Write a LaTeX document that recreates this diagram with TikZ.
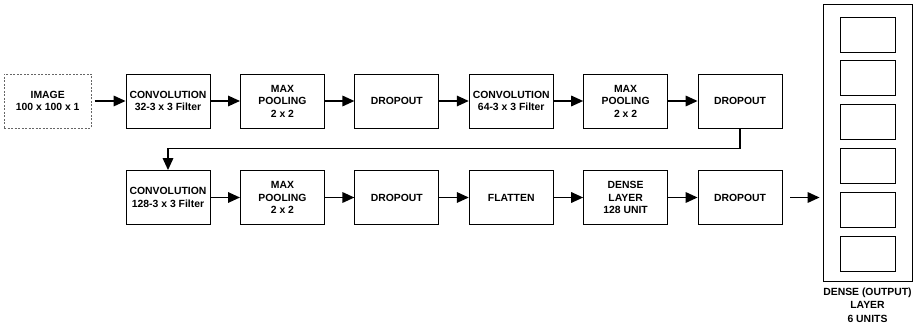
\documentclass[tikz,border=0pt]{standalone}
\usepackage{fontspec}
\setmainfont{Liberation Sans}
\usetikzlibrary{arrows.meta,positioning}
\tikzset{
  box/.style={draw=black,fill=white,minimum width=84pt,minimum height=54pt,align=center,
    font=\bfseries\fontsize{10.4}{12.5}\selectfont,line width=0.8pt,inner sep=1pt},
  inbox/.style={box,minimum width=87pt,draw=black!60,dash pattern=on 2pt off 1.5pt},
  unit/.style={draw=black,minimum width=55pt,minimum height=35pt,line width=0.8pt},
  flow/.style={-{Triangle[length=12pt,width=10.5pt]},line width=1.7pt},
  lbl/.style={font=\bfseries\fontsize{10.4}{13.5}\selectfont,align=center,inner sep=1pt},
  node distance=29.6pt
}
\begin{document}
\begin{tikzpicture}[x=1pt,y=-1pt]
  \useasboundingbox (0,0) rectangle (915,328);
  % first row
  \node[box] (c1) at (168,101) {CONVOLUTION\\32-3 x 3 Filter};
  \node[inbox,left=34pt of c1] (img) {IMAGE\\100 x 100 x 1};
  \node[box,right=of c1] (m1) {MAX\\POOLING\\2 x 2};
  \node[box,right=of m1] (d1) {DROPOUT};
  \node[box,right=of d1] (c2) {CONVOLUTION\\64-3 x 3 Filter};
  \node[box,right=of c2] (m2) {MAX\\POOLING\\2 x 2};
  \node[box,right=of m2] (d2) {DROPOUT};
  % second row
  \node[box] (c3) at (168,197.5) {CONVOLUTION\\128-3 x 3 Filter};
  \node[box,right=of c3] (m3) {MAX\\POOLING\\2 x 2};
  \node[box,right=of m3] (d3) {DROPOUT};
  \node[box,right=of d3] (fl) {FLATTEN};
  \node[box,right=of fl] (de) {DENSE\\LAYER\\128 UNIT};
  \node[box,right=of de] (d4) {DROPOUT};
  % output layer
  \node[draw=black,line width=0.8pt,minimum width=89pt,minimum height=277pt] (outer) at (867.5,142.5) {};
  \node[unit] (u1) at (867.5,34.5) {};
  \foreach \i [count=\j] in {2,...,6}
    \node[unit,below=8pt of u\j] (u\i) {};
  \node[lbl,below=5pt of outer] (olbl) {DENSE (OUTPUT)\\LAYER\\6 UNITS};
  % connectors
  \draw[flow,shorten <=3pt] (img) -- (c1);
  \foreach \a/\b in {c1/m1,m1/d1,d1/c2,c2/m2,m2/d2,c3/m3,m3/d3,d3/fl,fl/de,de/d4}
    \draw[flow] (\a) -- (\b);
  \draw[flow] (d2.south) -- ++(0,20) -| (c3.north);
  \draw[flow,shorten <=8pt,shorten >=3pt] (d4) -- (d4 -| outer.west);
\end{tikzpicture}
\end{document}
